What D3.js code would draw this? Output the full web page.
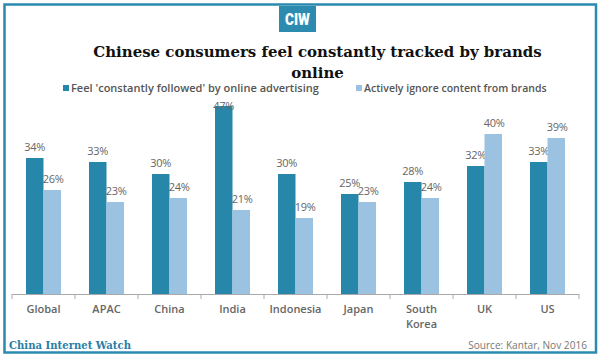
<!DOCTYPE html>
<html><head><meta charset="utf-8">
<script src="https://cdn.jsdelivr.net/npm/d3@7"></script>
<style>html,body{margin:0;padding:0;background:#fff}svg{display:block}</style>
</head><body>
<script>
const categories = ["Global","APAC","China","India","Indonesia","Japan","South Korea","UK","US"];
const followed = [34,33,30,47,30,25,28,32,33];
const ignore = [26,23,24,21,19,23,24,40,39];
const seriesNames = ["Feel 'constantly followed' by online advertising","Actively ignore content from brands"];
const colors = ["#2687ab","#9bc2e1"];

const W=600,H=358;
const svg=d3.select("body").append("svg").attr("width",W).attr("height",H);
svg.append("rect").attr("x",0).attr("y",0).attr("width",W).attr("height",H).attr("fill","#fff");
svg.append("rect").attr("x",4.5).attr("y",4.5).attr("width",591.5).attr("height",348).attr("fill","none").attr("stroke","#2a8ab0").attr("stroke-width",2.5);

// logo
svg.append("rect").attr("x",279).attr("y",6).attr("width",37).attr("height",26).attr("fill","#2e8bb0");
svg.append("text").attr("x",297.5).attr("y",25.5).attr("text-anchor","middle").attr("fill","#fff")
  .attr("font-family","Roboto, 'Liberation Sans Narrow', sans-serif").attr("font-weight","900").attr("font-size",16)
  .attr("transform","translate(297.5,0) scale(0.85,1) translate(-297.5,0)").text("CIW");

function fit(sel,target){const l=sel.node().getComputedTextLength();const fs=parseFloat(sel.attr("font-size"));sel.attr("font-size",fs*target/l);}
const t1=svg.append("text").attr("x",317.5).attr("y",57).attr("text-anchor","middle").attr("fill","#111")
  .attr("font-family","'DejaVu Serif', serif").attr("font-weight","bold").attr("font-size",16).text("Chinese consumers feel constantly tracked by brands");
fit(t1,449);
const t2=svg.append("text").attr("x",317.5).attr("y",78).attr("text-anchor","middle").attr("fill","#111")
  .attr("font-family","'DejaVu Serif', serif").attr("font-weight","bold").attr("font-size",t1.attr("font-size")).text("online");

// legend
const legX=[63,356], legW=[248,183];
seriesNames.forEach((s,i)=>{
  svg.append("rect").attr("x",legX[i]).attr("y",85).attr("width",6).attr("height",6).attr("fill",colors[i]);
  const lt=svg.append("text").attr("x",legX[i]+8).attr("y",92).attr("fill","#555")
    .attr("font-family","'Open Sans', sans-serif").attr("font-weight","600").attr("font-size",11).text(s);
  fit(lt,legW[i]);
});

const x0=d3.scaleBand().domain(categories).range([12,579]).paddingInner(0).paddingOuter(0);
const x1=d3.scaleBand().domain([0,1]).range([0,x0.bandwidth()]).paddingOuter(0.8).paddingInner(0);
const y=d3.scaleLinear().domain([0,50]).range([294,94]);

const g=svg.append("g");
categories.forEach((c,ci)=>{
  [followed[ci],ignore[ci]].forEach((v,si)=>{
    const bx=x0(c)+x1(si);
    g.append("rect").attr("x",bx).attr("y",y(v)).attr("width",x1.bandwidth()).attr("height",y(0)-y(v)).attr("fill",colors[si]);
    const ly=Math.max(y(v)-7,110);
    g.append("text").attr("x",bx+x1.bandwidth()/2+(si===1?1:0)).attr("y",ly).attr("text-anchor","middle").attr("fill","#666")
      .attr("font-family","'Open Sans', sans-serif").attr("font-size",11).attr("letter-spacing",-0.3).text(v+"%");
  });
});

// axis
const ax=svg.append("g").attr("transform","translate(0,294)");
ax.append("line").attr("x1",12).attr("x2",579).attr("y1",0.5).attr("y2",0.5).attr("stroke","#aaa").attr("stroke-width",1.2);
const ticks=categories.map(c=>x0(c)).concat([579]);
ticks.forEach(t=>ax.append("line").attr("x1",t).attr("x2",t).attr("y1",0).attr("y2",5).attr("stroke","#aaa"));
categories.forEach(c=>{
  const parts=c==="South Korea"?["South","Korea"]:[c];
  parts.forEach((p,i)=>ax.append("text").attr("x",x0(c)+x0.bandwidth()/2).attr("y",19+i*15).attr("text-anchor","middle")
    .attr("fill","#666").attr("font-family","'Open Sans', sans-serif").attr("font-weight","600").attr("font-size",11).text(p));
});

// footer
const f1=svg.append("text").attr("x",9).attr("y",349).attr("fill","#2a7ea5").attr("font-family","'DejaVu Serif', serif")
  .attr("font-weight","bold").attr("font-size",12).text("China Internet Watch");
fit(f1,122);
const f2=svg.append("text").attr("x",587).attr("y",349).attr("text-anchor","end").attr("fill","#777")
  .attr("font-family","'Open Sans', sans-serif").attr("font-size",11).text("Source: Kantar, Nov 2016");
fit(f2,119);
</script>
</body></html>
